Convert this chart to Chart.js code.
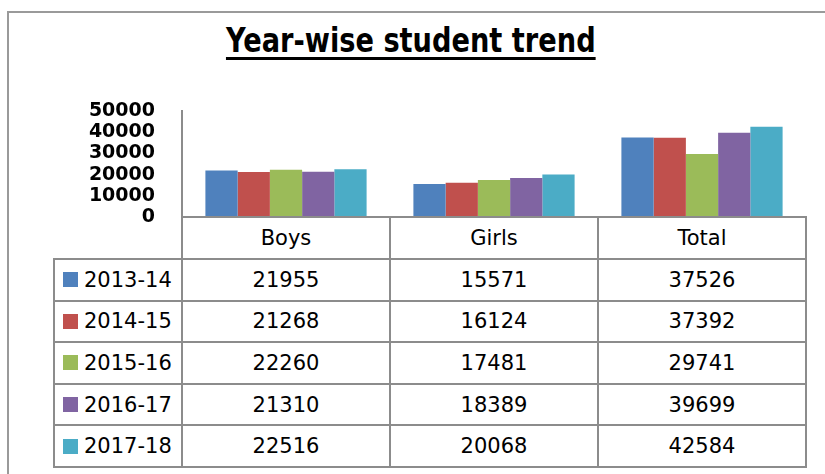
<!DOCTYPE html>
<html>
<head>
<meta charset="utf-8">
<script src="https://cdn.jsdelivr.net/npm/chart.js@4.4.1/dist/chart.umd.min.js"></script>
<style>
  html, body { margin: 0; width: 825px; height: 474px; overflow: hidden; }
  body { background: #fff; position: relative; font-family: 'DejaVu Sans', sans-serif; }
  #frame { position: absolute; left: 7px; top: 11px; width: 900px; height: 600px; border: 2px solid #9a9a9a; border-right: none; border-bottom: none; }
  #title { position: absolute; left: -2px; width: 825px; top: 23px; text-align: center; }
  #title span { display: inline-block; font: bold 34px/1 'DejaVu Sans', sans-serif; color: #000;
    text-decoration: underline; text-decoration-thickness: 3px; text-underline-offset: 5px; }
  canvas { position: absolute; left: 0; top: 0; }
  .cell { position: absolute; box-sizing: border-box; border: 2px solid #8c8c8c; display: flex;
    align-items: center; justify-content: center; font-size: 21px; color: #000; background: #fff; }
  .lab { justify-content: flex-start; padding-left: 8px; }
  .sw { display: inline-block; width: 15px; height: 15px; margin-right: 6px; }
</style>
</head>
<body>
<div id="frame"></div>
<div id="title"><span>Year-wise student trend</span></div>
<canvas id="chart" width="825" height="474"></canvas>
<div id="table"></div>
<script>
// Dados do gráfico
const categories = ['Boys', 'Girls', 'Total'];
const years = ['2013-14', '2014-15', '2015-16', '2016-17', '2017-18'];
const boys = [21955, 21268, 22260, 21310, 22516];
const girls = [15571, 16124, 17481, 18389, 20068];
const total = [37526, 37392, 29741, 39699, 42584];
const yTicks = [0, 10000, 20000, 30000, 40000, 50000];
const colors = ['#4F81BD', '#C0504D', '#9BBB59', '#8064A2', '#4BACC6'];

// Ajusta a largura do título
const titleSpan = document.querySelector('#title span');
titleSpan.style.transform = `scaleX(${370 / titleSpan.offsetWidth})`;

const datasets = years.map((y, i) => ({
    label: y,
    data: [boys[i], girls[i], total[i]],
    backgroundColor: colors[i],
    borderWidth: 0
}));

const chart = new Chart(document.getElementById('chart').getContext('2d'), {
    type: 'bar',
    data: { labels: categories, datasets: datasets },
    options: {
        responsive: false,
        animation: false,
        layout: { padding: { top: 111, right: 19, left: 0, bottom: 0 } },
        datasets: { bar: { categoryPercentage: 0.775, barPercentage: 1 } },
        plugins: { legend: { display: false }, tooltip: { enabled: false } },
        scales: {
            x: {
                grid: { display: false },
                border: { display: false },
                ticks: { display: false },
                afterFit: s => { s.height = 474 - 217; }
            },
            y: {
                min: 0,
                max: 50000,
                grid: { display: false, drawTicks: false },
                border: { display: true, color: '#8c8c8c', width: 2 },
                ticks: {
                    autoSkip: false,
                    padding: 27,
                    color: '#000',
                    font: { family: 'DejaVu Sans', weight: 'bold', size: 19, lineHeight: 1 },
                    callback: v => String(v)
                },
                afterBuildTicks: s => { s.ticks = yTicks.map(v => ({ value: v })); },
                afterFit: s => { s.width = 182; }
            }
        }
    }
});

// Monta a tabela de dados alinhada com o eixo x
function cell(parent, x, y, w, h, html, cls) {
    const d = document.createElement('div');
    d.className = 'cell' + (cls ? ' ' + cls : '');
    d.style.left = (x - 1) + 'px';
    d.style.top = (y - 1) + 'px';
    d.style.width = (w + 2) + 'px';
    d.style.height = (h + 2) + 'px';
    d.innerHTML = html;
    parent.appendChild(d);
}

const table = document.getElementById('table');
const xs = chart.scales.x;
const colW = (xs.right - xs.left) / categories.length;
const top0 = chart.chartArea.bottom;
const headH = 42;
const rowH = 41.6;
const labLeft = 54;
const series = [boys, girls, total];

categories.forEach((c, j) => {
    cell(table, xs.left + j * colW, top0, colW, headH, c);
});
years.forEach((y, i) => {
    const ry = top0 + headH + i * rowH;
    cell(table, labLeft, ry, xs.left - labLeft, rowH,
        `<span class="sw" style="background:${colors[i]}"></span>${y}`, 'lab');
    series.forEach((s, j) => {
        cell(table, xs.left + j * colW, ry, colW, rowH, String(s[i]));
    });
});
</script>
</body>
</html>
